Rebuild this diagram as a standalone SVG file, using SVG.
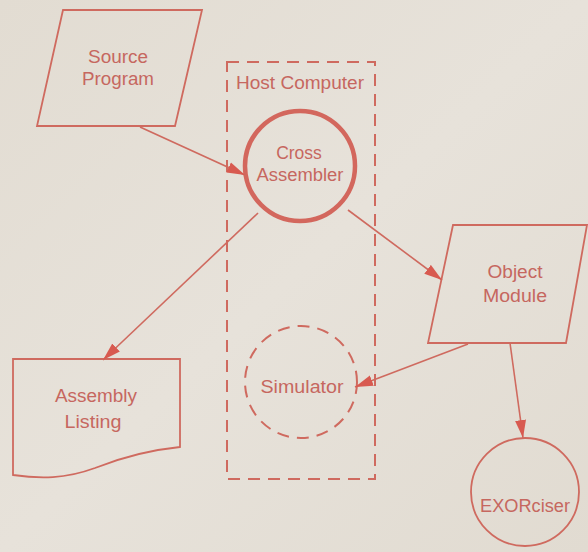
<svg xmlns="http://www.w3.org/2000/svg" width="588" height="552" viewBox="0 0 588 552">
<defs>
<style>
.ln{fill:none;stroke:#cf6a5f;stroke-width:1.8}
.t{font-family:"Liberation Sans",Arial,sans-serif;font-size:17.5px;fill:#c6675f;text-anchor:middle}
.conn{fill:none;stroke:#cf6a5f;stroke-width:1.6}
</style>
<linearGradient id="bg" x1="0" y1="0" x2="1" y2="1">
<stop offset="0" stop-color="#e2dcd2"/>
<stop offset="0.5" stop-color="#e7e2da"/>
<stop offset="1" stop-color="#e1dbd1"/>
</linearGradient>
<marker id="ah" markerUnits="userSpaceOnUse" markerWidth="20" markerHeight="14" refX="18" refY="6" orient="auto">
<path d="M0,0.5 L18,6 L0,11.5 Z" fill="#d85a50"/>
</marker>
</defs>
<rect width="588" height="552" fill="url(#bg)"/>

<g id="host-computer">
<rect x="227" y="62" width="148" height="417" fill="none" stroke="#cf6a5f" stroke-width="2" stroke-dasharray="12 8"/>
<text class="t" x="300" y="89" textLength="128" lengthAdjust="spacingAndGlyphs">Host Computer</text>
</g>

<g id="source-program">
<polygon class="ln" points="63,10 202,10 175,126 37,126"/>
<text class="t" x="118" y="63" textLength="60" lengthAdjust="spacingAndGlyphs">Source</text>
<text class="t" x="118" y="85" textLength="72" lengthAdjust="spacingAndGlyphs">Program</text>
</g>

<g id="cross-assembler">
<circle cx="300" cy="166" r="55" fill="none" stroke="#d3675d" stroke-width="4.5"/>
<text class="t" x="299" y="159">Cross</text>
<text class="t" x="300" y="181" textLength="87" lengthAdjust="spacingAndGlyphs">Assembler</text>
</g>

<g id="object-module">
<polygon class="ln" points="453,225 587,225 566,343 428,343"/>
<text class="t" x="515" y="278" textLength="55" lengthAdjust="spacingAndGlyphs">Object</text>
<text class="t" x="515" y="302" textLength="64" lengthAdjust="spacingAndGlyphs">Module</text>
</g>

<g id="assembly-listing">
<path class="ln" d="M13,359 L180,359 L180,447 C150,450 120,458 95,468 C65,479 40,479 13,475 Z"/>
<text class="t" x="96" y="402" textLength="82" lengthAdjust="spacingAndGlyphs">Assembly</text>
<text class="t" x="93" y="428" textLength="57" lengthAdjust="spacingAndGlyphs">Listing</text>
</g>

<g id="simulator">
<circle cx="301" cy="382" r="56" fill="none" stroke="#cf6a5f" stroke-width="2" stroke-dasharray="12 8"/>
<text class="t" x="302" y="393" textLength="83" lengthAdjust="spacingAndGlyphs">Simulator</text>
</g>

<g id="exorciser">
<circle cx="525" cy="492" r="54" class="ln"/>
<text class="t" x="525" y="512" textLength="90" lengthAdjust="spacingAndGlyphs">EXORciser</text>
</g>

<g id="connectors">
<line class="conn" x1="140" y1="127" x2="245" y2="175" marker-end="url(#ah)"/>
<line class="conn" x1="348" y1="210" x2="442" y2="280" marker-end="url(#ah)"/>
<line class="conn" x1="258" y1="213" x2="103" y2="360" marker-end="url(#ah)"/>
<line class="conn" x1="468" y1="344" x2="355" y2="387" marker-end="url(#ah)"/>
<line class="conn" x1="510" y1="343" x2="523" y2="438" marker-end="url(#ah)"/>
</g>
</svg>
